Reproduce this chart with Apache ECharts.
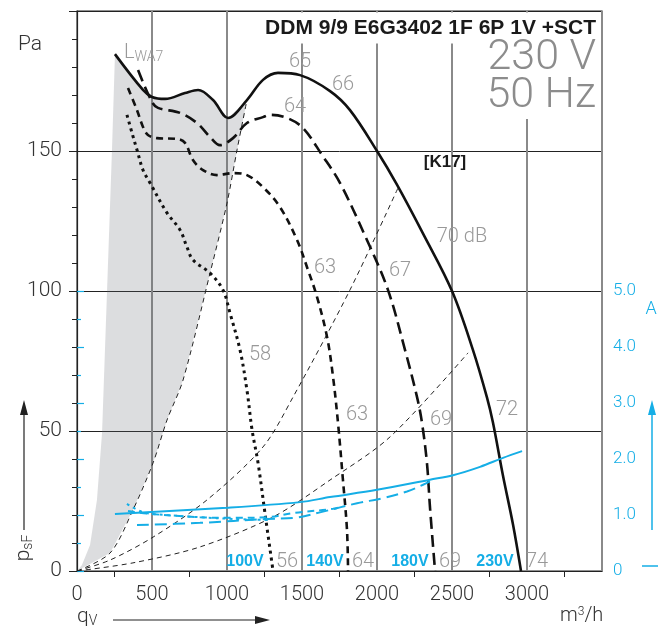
<!DOCTYPE html>
<html><head><meta charset="utf-8">
<script src="https://cdn.jsdelivr.net/npm/echarts@6/dist/echarts.min.js"></script>
<style>html,body{margin:0;padding:0;background:#fff}#c{width:658px;height:627px}</style>
</head><body><div id="c"></div>
<script>
// ---- data (q in m3/h, p in Pa, I in A) ----
const xTicks = [0, 500, 1000, 1500, 2000, 2500, 3000];
const yTicks = [0, 50, 100, 150];
const aTicks = [0, 1, 2, 3, 4, 5];
const curve230 = [[253,184.6],[440,171.8],[500,169.3],[587,168.6],[720,170.7],[807,171.8],[907,168.2],[1007,161.8],[1133,168.2],[1240,175.4],[1340,177.9],[1487,177.1],[1687,171.4],[1820,164.6],[2000,150],[2133,138],[2307,120.5],[2500,100],[2640,78.9],[2733,62],[2773,53],[2840,34],[2907,16.5],[2960,0]];
const curve180 = [[407,178.9],[500,167.5],[540,165.4],[687,163.6],[800,160],[887,155],[953,152.1],[1040,154.6],[1133,160],[1240,162.1],[1287,162.9],[1400,161.8],[1507,158.2],[1633,148.6],[1753,138.6],[1933,118.2],[2073,100.4],[2187,78.9],[2267,62.1],[2300,52.9],[2333,38.6],[2353,22.9],[2387,0]];
const curve140 = [[340,172.5],[400,164.6],[440,158.6],[473,155.7],[533,154.6],[667,154.3],[720,152.9],[773,146.8],[840,143.2],[933,141.4],[1040,142.1],[1133,141.4],[1240,137.1],[1353,130],[1467,118.2],[1540,107.5],[1600,97.9],[1667,83.6],[1707,69.3],[1740,52.9],[1773,32.5],[1800,14.6],[1807,0]];
const curve100 = [[333,162.9],[367,156.4],[400,150.4],[440,143.2],[487,138.6],[600,127.9],[687,121.8],[733,115.7],[773,111.1],[887,106.4],[973,100.4],[1020,92.1],[1087,78.9],[1133,64.6],[1167,50.4],[1207,38.6],[1253,20.7],[1307,0]];
const system1 = [[0,0],[220,6.4],[373,21.8],[507,38.6],[600,53.9],[707,68.2],[887,106.4],[1000,131.4],[1067,150.4],[1133,168.2]];
const system2 = [[0,0],[220,3.9],[507,12.1],[867,25.4],[1240,44.3],[1440,62.1],[1820,100.4],[2140,136.8]];
const system3 = [[0,0],[373,2.9],[820,8.6],[1307,19.3],[1687,32.5],[2087,47.9],[2607,77.9]];
const grayLeftEdge = [[0,0],[33,2.1],[87,9.3],[133,25.4],[167,49.3],[200,99.6],[233,150],[253,184.3]];
const amp230 = [[253,1.02],[1000,1.13],[1487,1.23],[1687,1.32],[2000,1.45],[2353,1.63],[2507,1.71],[2687,1.86],[2840,2.02],[2967,2.14]];
const amp180 = [[400,0.82],[820,0.86],[1267,0.93],[1453,0.95],[1640,1.06],[1867,1.21],[2040,1.30],[2200,1.42],[2307,1.54],[2353,1.60]];
const amp140 = [[340,1.07],[487,1.02],[820,0.96],[1040,0.95],[1267,0.96],[1453,1.04],[1707,1.11],[1773,1.16]];
const amp100 = [[333,1.20],[440,1.05],[600,1.0],[820,0.96],[1040,0.93],[1273,0.91]];

const BLUE = '#15aee6';
const FONT = '"Liberation Sans", Arial, sans-serif';
const LFONT = 'Roboto, "Liberation Sans", sans-serif';
const grayPoly = grayLeftEdge.concat(curve230.filter(p => p[0] > 253 && p[0] < 1133), system1.slice().reverse());

const chart = echarts.init(document.getElementById('c'), null, {renderer: 'canvas'});

function line(data, color, width, dash, xi, yi, smooth) {
  return {type: 'line', data, xAxisIndex: xi, yAxisIndex: yi, showSymbol: false, symbol: 'none', silent: true,
    smooth: smooth === undefined ? 0.35 : smooth, z: 3,
    lineStyle: {color, width, type: dash, cap: 'butt'}};
}
function txt(x, y, text, size, color, align, weight, fam) {
  return {type: 'text', x, y, z: 20, silent: true,
    style: {text, font: (weight || '300') + ' ' + size + 'px ' + (fam || LFONT), fill: color,
      textAlign: align || 'left', textVerticalAlign: 'middle'}};
}
const G = '#999';

const option = {
  animation: false,
  backgroundColor: '#fff',
  grid: [
    {left: 77, right: 56, top: 11, bottom: 56, show: true, borderColor: '#222', borderWidth: 1.2, backgroundColor: 'transparent'},
    {left: 77, right: 56, top: 291, bottom: 56, show: false}
  ],
  xAxis: [
    {type: 'value', gridIndex: 0, min: 0, max: 3500, interval: 500,
     axisLine: {lineStyle: {color: '#222', width: 1.2}},
     axisTick: {show: false},
     minorTick: {show: true, splitNumber: 2, length: 6, lineStyle: {color: '#222', width: 1}},
     axisLabel: {fontSize: 20, color: '#333', fontFamily: LFONT, fontWeight: 300, margin: 14,
       formatter: v => xTicks.indexOf(v) >= 0 ? String(v) : ''},
     splitLine: {show: true, lineStyle: {color: '#8a8a8a', width: 2}}},
    {type: 'value', gridIndex: 1, min: 0, max: 3500, show: false}
  ],
  yAxis: [
    {type: 'value', gridIndex: 0, min: 0, max: 200, interval: 50,
     axisLine: {show: true, lineStyle: {color: '#222', width: 1.2}},
     axisTick: {show: true, length: 8, lineStyle: {color: '#222'}},
     minorTick: {show: true, splitNumber: 5, length: 5, lineStyle: {color: '#222'}},
     axisLabel: {fontSize: 21, color: '#333', fontFamily: LFONT, fontWeight: 300, margin: 15,
       formatter: v => yTicks.indexOf(v) >= 0 ? String(v) : ''},
     splitLine: {show: true, lineStyle: {color: '#222', width: 1}}},
    {type: 'value', gridIndex: 1, position: 'right', min: 0, max: 5, interval: 1,
     axisLine: {show: false},
     axisTick: {show: true, length: 7, lineStyle: {color: BLUE, width: 1.2}},
     minorTick: {show: true, splitNumber: 2, length: 4, lineStyle: {color: BLUE, width: 1.2}},
     axisLabel: {fontSize: 17, color: BLUE, fontFamily: LFONT, fontWeight: 300, margin: 11,
       formatter: v => aTicks.indexOf(v) >= 0 ? (v === 0 ? '0' : v.toFixed(1)) : ''},
     splitLine: {show: false}}
  ],
  series: [
    {type: 'custom', xAxisIndex: 0, yAxisIndex: 0, silent: true, z: 1, data: [[0, 0]],
     renderItem: (params, api) => ({type: 'polygon', shape: {points: grayPoly.map(p => api.coord(p))},
       style: {fill: 'rgba(100,104,114,0.226)'}})},
    line(system1, '#222', 1, [5, 4], 0, 0, 0.3),
    line(system2, '#222', 1, [5, 4], 0, 0, 0.3),
    line(system3, '#222', 1, [5, 4], 0, 0, 0.3),
    line(curve230, '#111', 2.6, 'solid', 0, 0),
    line(curve180, '#111', 2.6, [12, 6], 0, 0),
    line(curve140, '#111', 2.6, [7, 5], 0, 0),
    line(curve100, '#111', 3, [3, 4], 0, 0),
    line(amp230, BLUE, 2, 'solid', 1, 1),
    line(amp180, BLUE, 2, [12, 6], 1, 1),
    line(amp140, BLUE, 2, [7, 5], 1, 1),
    line(amp100, BLUE, 2, [3, 4], 1, 1)
  ],
  graphic: [
    {type: 'rect', z: 15, silent: true, shape: {x: 255, y: 12.5, width: 346, height: 31}, style: {fill: '#fff'}},
    {type: 'rect', z: 15, silent: true, shape: {x: 478, y: 40, width: 123, height: 79}, style: {fill: '#fff'}},
    txt(596, 28, 'DDM 9/9 E6G3402 1F 6P 1V +SCT', 21, '#1a1a1a', 'right', 'bold', FONT),
    txt(596, 58, '230 V', 43, '#8c8c8c', 'right'),
    txt(596, 96, '50 Hz', 43, '#8c8c8c', 'right'),
    txt(445, 162, '[K17]', 17, '#1a1a1a', 'center', 'bold', FONT),
    txt(18, 45, 'Pa', 21, '#333'),
    {type: 'text', x: 124, y: 53, z: 20, silent: true,
     style: {text: '{a|L}{b|WA7}', rich: {a: {font: '300 20px ' + LFONT, fill: G}, b: {font: '300 14px ' + LFONT, fill: G, padding: [8, 0, 0, 0]}},
       textVerticalAlign: 'middle'}},
    txt(300, 62, '65', 20, G, 'center'),
    txt(343, 85, '66', 20, G, 'center'),
    txt(295, 107, '64', 20, G, 'center'),
    txt(325, 268, '63', 20, G, 'center'),
    txt(400, 271, '67', 20, G, 'center'),
    txt(462, 237, '70 dB', 20, G, 'center'),
    txt(260, 355, '58', 20, G, 'center'),
    txt(357, 415, '63', 20, G, 'center'),
    txt(441, 420, '69', 20, G, 'center'),
    txt(507, 410, '72', 20, G, 'center'),
    txt(245, 562, '100V', 16, BLUE, 'center', 'bold', FONT),
    txt(287, 562, '56', 20, G, 'center'),
    txt(325, 562, '140V', 16, BLUE, 'center', 'bold', FONT),
    txt(363, 562, '64', 20, G, 'center'),
    txt(410, 562, '180V', 16, BLUE, 'center', 'bold', FONT),
    txt(450, 562, '69', 20, G, 'center'),
    txt(495, 562, '230V', 16, BLUE, 'center', 'bold', FONT),
    txt(537, 562, '74', 20, G, 'center'),
    txt(651, 309, 'A', 18, BLUE, 'center'),
    {type: 'text', x: 560, y: 616, z: 20, silent: true,
     style: {text: '{a|m}{b|3}{a|/h}', rich: {a: {font: '300 20px ' + LFONT, fill: '#333'}, b: {font: '300 12px ' + LFONT, fill: '#333', padding: [0, 0, 8, 0]}},
       textVerticalAlign: 'middle'}},
    {type: 'text', x: 77, y: 617, z: 20, silent: true,
     style: {text: '{a|q}{b|V}', rich: {a: {font: '300 21px ' + LFONT, fill: '#333'}, b: {font: '300 14px ' + LFONT, fill: '#333', padding: [8, 0, 0, 0]}},
       textVerticalAlign: 'middle'}},
    {type: 'line', z: 20, silent: true, shape: {x1: 113, y1: 620, x2: 258, y2: 620}, style: {stroke: '#222', lineWidth: 1.2}},
    {type: 'polygon', z: 20, silent: true, shape: {points: [[255, 616], [270, 620], [255, 624]]}, style: {fill: '#222'}},
    {type: 'text', x: 24, y: 548, z: 20, silent: true, rotation: Math.PI / 2,
     style: {text: '{a|p}{b|sF}', rich: {a: {font: '300 21px ' + LFONT, fill: '#333'}, b: {font: '300 14px ' + LFONT, fill: '#333', padding: [8, 0, 0, 0]}},
       textAlign: 'center', textVerticalAlign: 'middle'}},
    {type: 'line', z: 20, silent: true, shape: {x1: 24, y1: 530, x2: 24, y2: 412}, style: {stroke: '#222', lineWidth: 1.2}},
    {type: 'polygon', z: 20, silent: true, shape: {points: [[20, 415], [24, 400], [28, 415]]}, style: {fill: '#222'}},
    {type: 'line', z: 20, silent: true, shape: {x1: 652, y1: 530, x2: 652, y2: 412}, style: {stroke: BLUE, lineWidth: 1.5}},
    {type: 'polygon', z: 20, silent: true, shape: {points: [[648, 415], [652, 400], [656, 415]]}, style: {fill: BLUE}},
    {type: 'line', z: 20, silent: true, shape: {x1: 642, y1: 566, x2: 658, y2: 566}, style: {stroke: BLUE, lineWidth: 1.5}}
  ]
};
chart.setOption(option);
</script></body></html>
